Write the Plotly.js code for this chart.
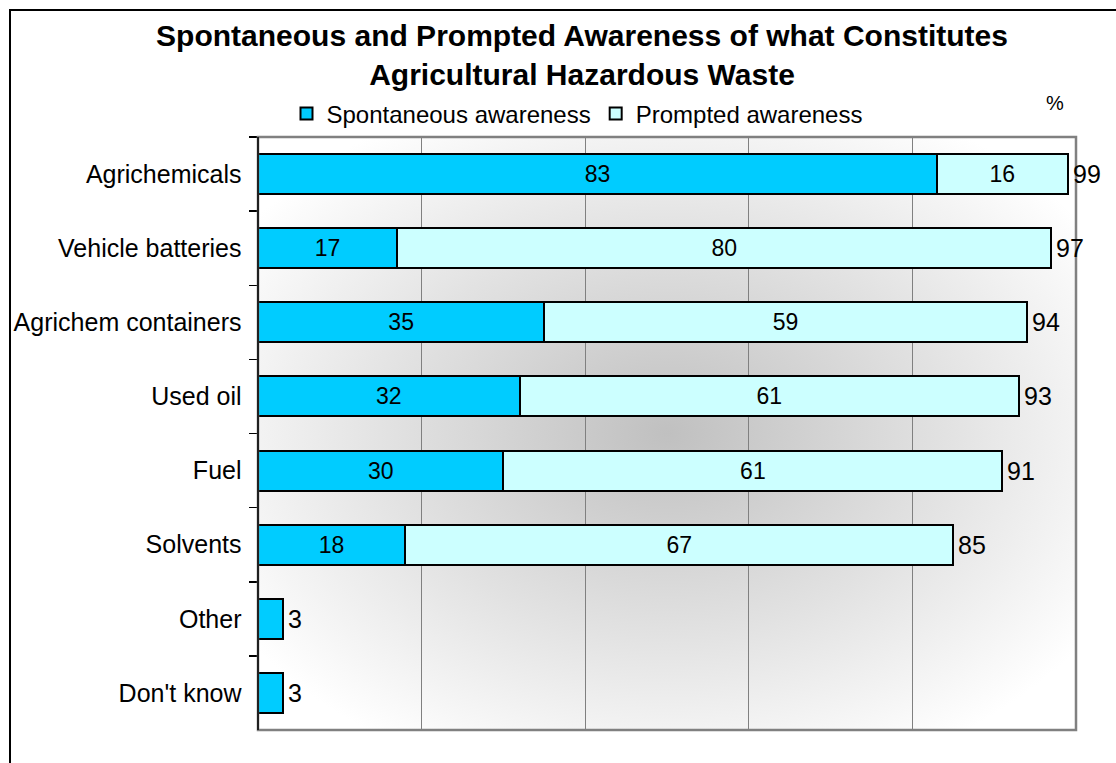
<!DOCTYPE html>
<html>
<head>
<meta charset="utf-8">
<script src="https://cdn.plot.ly/plotly-3.0.1.min.js"></script>
<style>html,body{margin:0;padding:0;background:#fff;}#chart{width:1116px;height:763px;}</style>
</head>
<body>
<div id="chart"></div>
<script>
const categories = ["Agrichemicals", "Vehicle batteries", "Agrichem containers", "Used oil", "Fuel", "Solvents", "Other", "Don't know"];
const spontaneous = [83, 17, 35, 32, 30, 18, 3, 3];
const prompted = [16, 80, 59, 61, 61, 67, null, null];
const totals = [99, 97, 94, 93, 91, 85, 3, 3];

const font = "Arial, 'Liberation Sans', sans-serif";

const svg = '<svg xmlns="http://www.w3.org/2000/svg" width="818" height="593" preserveAspectRatio="none">' +
  '<defs><radialGradient id="g" cx="0.5" cy="0.5" r="0.62" gradientUnits="objectBoundingBox">' +
  '<stop offset="0" stop-color="#c0c0c0"/><stop offset="0.55" stop-color="#e2e2e2"/><stop offset="1" stop-color="#ffffff"/></radialGradient></defs>' +
  '<rect width="818" height="593" fill="url(#g)"/></svg>';
const bgSrc = 'data:image/svg+xml;charset=utf-8,' + encodeURIComponent(svg);

const traces = [
  {
    type: 'bar', orientation: 'h', name: 'Spontaneous awareness',
    y: categories, x: spontaneous,
    text: spontaneous.map((v, i) => prompted[i] ? String(v) : ''),
    textposition: 'inside', insidetextanchor: 'middle',
    textfont: {family: font, size: 23, color: '#000'},
    marker: {color: '#00CCFF', line: {color: '#000', width: 2}},
    hoverinfo: 'x+y'
  },
  {
    type: 'bar', orientation: 'h', name: 'Prompted awareness',
    y: categories, x: prompted,
    text: prompted.map(v => v == null ? '' : String(v)),
    textposition: 'inside', insidetextanchor: 'middle',
    textfont: {family: font, size: 23, color: '#000'},
    marker: {color: '#CCFFFF', line: {color: '#000', width: 2}},
    hoverinfo: 'x+y'
  }
];

const annotations = totals.map((t, i) => ({
  x: t, y: categories[i], xref: 'x', yref: 'y',
  text: String(t), showarrow: false, xanchor: 'left', xshift: 3,
  font: {family: font, size: 25, color: '#000'}
}));
annotations.push({
  x: (1055 - 258) / 818, y: 1 + (137 - 103) / 593, xref: 'paper', yref: 'paper',
  text: '%', showarrow: false, xanchor: 'center', yanchor: 'middle',
  font: {family: font, size: 20, color: '#000'}
});

const layout = {
  width: 1116, height: 763,
  margin: {l: 258, r: 40, t: 137, b: 33},
  paper_bgcolor: '#ffffff',
  plot_bgcolor: 'rgba(0,0,0,0)',
  barmode: 'stack',
  bargap: 0.46,
  title: {
    text: '<b>Spontaneous and Prompted Awareness of what Constitutes<br>Agricultural Hazardous Waste</b>',
    font: {family: font, size: 30, color: '#000'},
    xref: 'container', yref: 'container',
    x: 582 / 1116, xanchor: 'center',
    y: 1 - 46 / 763, yanchor: 'middle'
  },
  showlegend: true,
  legend: {
    orientation: 'h', x: (577 - 258) / 818, xanchor: 'center',
    y: 1 + (137 - 114) / 593, yanchor: 'middle',
    font: {family: font, size: 24, color: '#000'},
    bgcolor: 'rgba(0,0,0,0)', traceorder: 'normal', itemwidth: 30
  },
  xaxis: {
    range: [0, 100], dtick: 20, tick0: 0,
    showticklabels: false, ticks: '',
    showgrid: true, gridcolor: '#808080', gridwidth: 1.2,
    zeroline: false, showline: false, fixedrange: true
  },
  yaxis: {
    type: 'category', autorange: 'reversed',
    tickson: 'boundaries', ticks: 'outside', ticklen: 8, tickcolor: '#000', tickwidth: 1.5,
    showline: true, linecolor: '#000', linewidth: 1.5,
    showgrid: false, zeroline: false,
    tickfont: {family: font, size: 25, color: '#000'},
    ticklabelstandoff: 10, fixedrange: true
  },
  images: [{
    source: bgSrc, xref: 'paper', yref: 'paper',
    x: 0, y: 1, sizex: 1, sizey: 1, xanchor: 'left', yanchor: 'top',
    sizing: 'stretch', layer: 'below'
  }],
  shapes: [
    {type: 'rect', xref: 'paper', yref: 'paper', x0: 0, x1: 1, y0: 0, y1: 1,
     line: {color: '#808080', width: 2.5}, fillcolor: 'rgba(0,0,0,0)', layer: 'above'},
    {type: 'line', xref: 'paper', yref: 'paper', x0: 0, x1: 0, y0: 0, y1: 1,
     line: {color: '#000', width: 1.5}, layer: 'above'},
    {type: 'rect', xref: 'paper', yref: 'paper',
     x0: (10 - 258) / 818, x1: (1130 - 258) / 818,
     y0: -(800 - 730) / 593, y1: 1 + (137 - 10) / 593,
     line: {color: '#000', width: 2}, fillcolor: 'rgba(0,0,0,0)', layer: 'above'}
  ],
  annotations: annotations
};

Plotly.newPlot('chart', traces, layout, {displayModeBar: false, staticPlot: true});
</script>
</body>
</html>
